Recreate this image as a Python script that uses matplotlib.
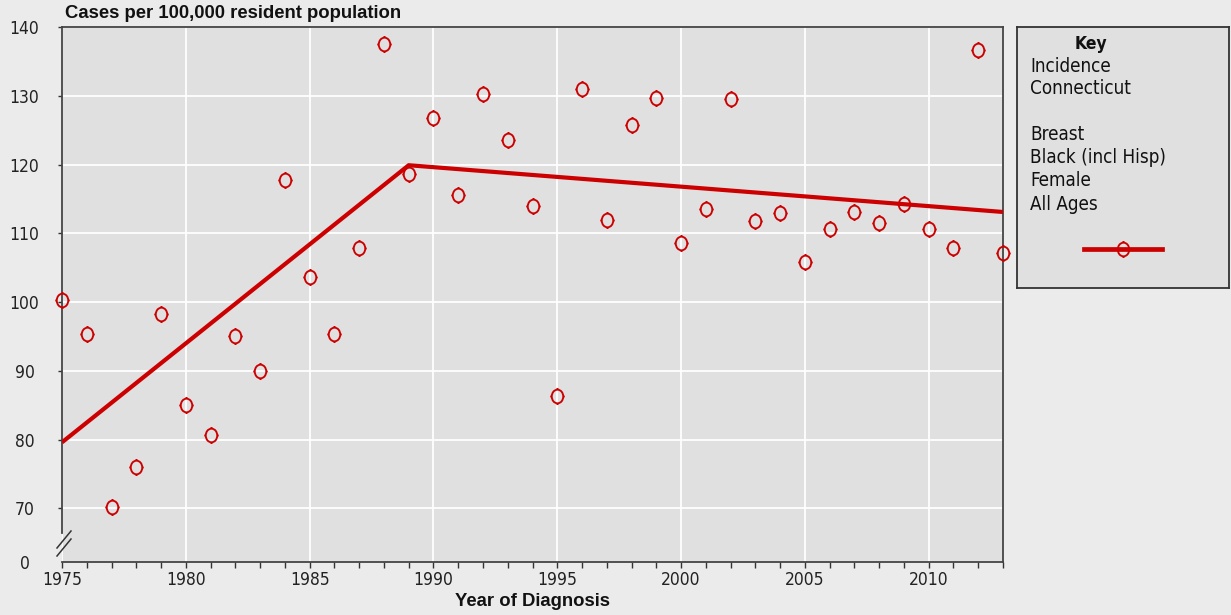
import matplotlib
matplotlib.use("Agg")
import matplotlib.pyplot as plt
from matplotlib.path import Path
from matplotlib.transforms import Affine2D
from matplotlib.lines import Line2D
import numpy as np

# ---------------- data ----------------
years = list(range(1975, 2014))
observed = [100.3, 95.3, 70.2, 76.0, 98.2, 85.1, 80.7, 95.1, 90.0, 117.8,
            103.6, 95.3, 107.8, 137.5, 118.6, 126.8, 115.5, 130.2, 123.5, 114.0,
            86.4, 131.0, 112.0, 125.8, 129.7, 108.6, 113.5, 129.5, 111.8, 112.9,
            105.8, 110.6, 113.1, 111.5, 114.2, 110.6, 107.9, 136.6, 107.1]
trend_years = [1975, 1989, 2013]
trend_values = [79.6, 119.9, 113.1]

y_ticks = [70, 80, 90, 100, 110, 120, 130, 140]
y_tick_labels = ["70", "80", "90", "100", "110", "120", "130", "140"]
y_break_label = "0"
x_tick_years = [1975, 1980, 1985, 1990, 1995, 2000, 2005, 2010]
x_tick_labels = [str(v) for v in x_tick_years]

ylabel_text = "Cases per 100,000 resident population"
xlabel_text = "Year of Diagnosis"
key_title = "Key"
key_lines = ["Incidence", "Connecticut", "", "Breast", "Black (incl Hisp)", "Female", "All Ages"]

# ---------------- style ----------------
RED = "#cc0000"
FIG_BG = "#ebebeb"
AX_BG = "#e0e0e0"
DARK = "#333333"
W, H = 1231, 615
COND = ["DejaVu Sans Condensed", "DejaVu Sans"]
BOLD = ["Liberation Sans", "DejaVu Sans"]

plt.rcParams["font.family"] = COND
plt.rcParams["font.stretch"] = "condensed"

fig = plt.figure(figsize=(W / 100, H / 100), dpi=100, facecolor=FIG_BG)

def fx(px):
    return px / W

def fy(py):
    return 1 - py / H

ax_l, ax_r, ax_t, ax_b = 62, 1003, 27, 562
ax = fig.add_axes([fx(ax_l), fy(ax_b), fx(ax_r - ax_l), (ax_b - ax_t) / H])
ax.set_facecolor(AX_BG)

y_min = 62.2
ax.set_xlim(1975, 2013)
ax.set_ylim(y_min, 140)

# marker: slightly tall ellipse with small ticks
ell = Path.unit_circle().transformed(Affine2D().scale(0.84, 1.0))
ticks = [Path([[0, 1.0], [0, 1.22]], [Path.MOVETO, Path.LINETO]),
         Path([[0, -1.0], [0, -1.22]], [Path.MOVETO, Path.LINETO]),
         Path([[0.84, 0], [1.04, 0]], [Path.MOVETO, Path.LINETO]),
         Path([[-0.84, 0], [-1.04, 0]], [Path.MOVETO, Path.LINETO])]
marker_path = Path.make_compound_path(ell, *ticks)

# grid
ax.set_axisbelow(True)
ax.set_xticks(x_tick_years)
ax.set_xticklabels(x_tick_labels)
ax.set_xticks(years, minor=True)
ax.set_yticks([y_min] + y_ticks)
ax.set_yticklabels([y_break_label] + y_tick_labels)
ax.grid(True, which="major", color="white", lw=1.3)
ax.yaxis.get_gridlines()[0].set_visible(False)
ax.yaxis.get_major_ticks()[0].tick1line.set_visible(False)

ax.tick_params(axis="x", which="both", direction="out", length=4.5, width=1, color=DARK,
               labelsize=12.5, pad=2, labelcolor="#222222")
ax.tick_params(axis="y", which="major", direction="out", length=3, width=1, color=DARK,
               labelsize=12.5, pad=24, labelcolor="#222222")
for lab in ax.get_yticklabels():
    lab.set_horizontalalignment("center")

for side in ["top", "right", "bottom", "left"]:
    ax.spines[side].set_color("#444444")
    ax.spines[side].set_linewidth(1.3)
ax.spines["left"].set_bounds(66.4, 140)

# data
ax.plot(trend_years, trend_values, color=RED, lw=3.0, solid_capstyle="butt", zorder=3)
ax.plot(years, observed, linestyle="none", marker=marker_path, markersize=12,
        markerfacecolor="none", markeredgecolor=RED, markeredgewidth=1.35,
        clip_on=False, zorder=4)

# axis break marks
for dy in (0, 8):
    fig.add_artist(Line2D([fx(57), fx(71)], [fy(548 + dy), fy(531 + dy)],
                          color=DARK, lw=1.1, transform=fig.transFigure))

# labels
fig.text(fx(65), fy(14), ylabel_text, fontsize=13.3, fontweight="bold",
         family=BOLD, ha="left", va="center", color="#111111")
fig.text(fx((ax_l + ax_r) / 2), fy(601), xlabel_text, fontsize=13.3, fontweight="bold",
         family=BOLD, ha="center", va="center", color="#111111")

# key box
kl, kr, kt, kb = 1017, 1229, 27, 288
kax = fig.add_axes([fx(kl), fy(kb), fx(kr - kl), (kb - kt) / H])
kax.set_facecolor(AX_BG)
kax.set_xticks([])
kax.set_yticks([])
for side in kax.spines.values():
    side.set_color("#333333")
    side.set_linewidth(1.3)

fig.text(fx(1091), fy(44), key_title, fontsize=12.5, fontweight="bold",
         ha="center", va="center", color="#111111")
for i, line in enumerate(key_lines):
    if line:
        fig.text(fx(1030), fy(66 + 23 * i), line, fontsize=13.5,
                 ha="left", va="center", color="#111111")

handle = Line2D([], [], color=RED, lw=3.4, marker=marker_path, markersize=12,
                markerfacecolor="none", markeredgecolor=RED, markeredgewidth=1.35)
kax.legend(handles=[handle], labels=[""], loc="center",
           bbox_to_anchor=((1123 - kl) / (kr - kl), (kb - 250) / (kb - kt)),
           frameon=False, handlelength=4.3, handletextpad=0, borderpad=0, fontsize=13)

fig.savefig("out.png", dpi=100, facecolor=FIG_BG)
